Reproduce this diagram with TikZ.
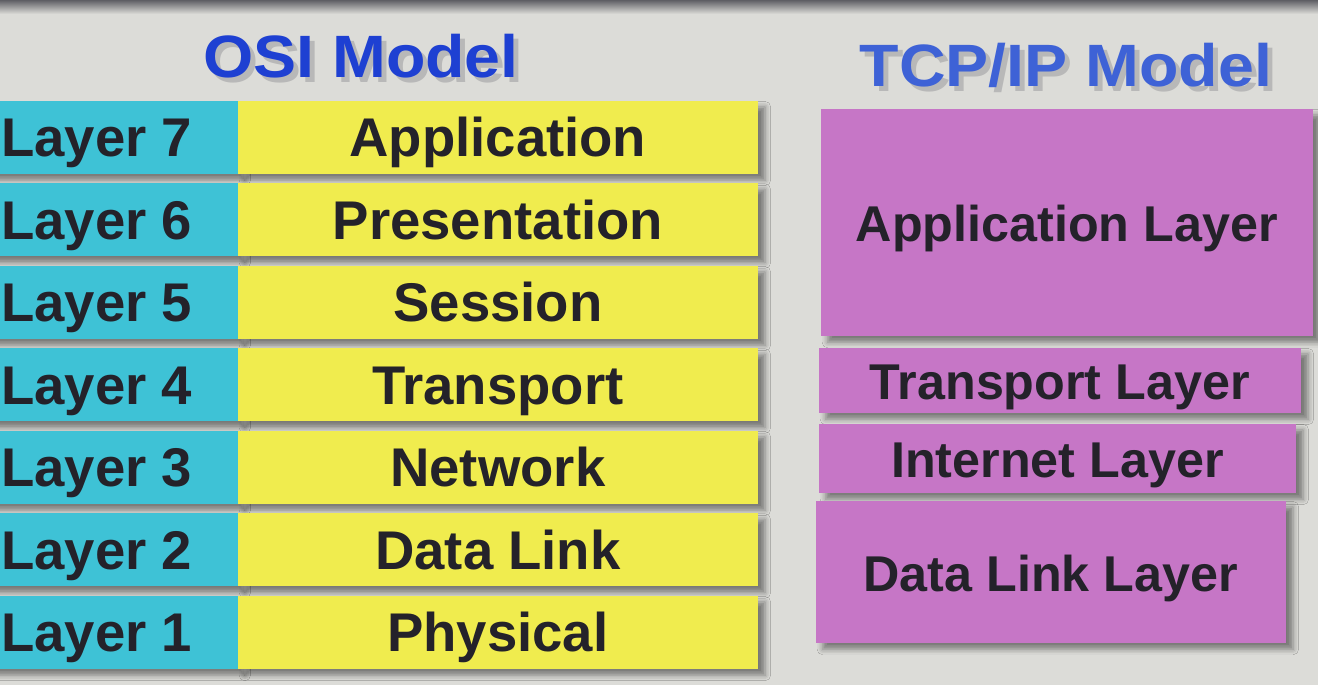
\documentclass[tikz,border=0pt]{standalone}
\usepackage{fontspec}
\setmainfont{Liberation Sans}
\usepackage{tikz}
\usetikzlibrary{positioning,shadows.blur}
\definecolor{Backdrop}{HTML}{DCDCD8}
\definecolor{Bezel}{HTML}{5E5E64}
\definecolor{LayerCyan}{HTML}{3EC2D6}
\definecolor{OsiYellow}{HTML}{F0EC4E}
\definecolor{TcpPink}{HTML}{C676C6}
\definecolor{OsiBlue}{HTML}{1E40D2}
\definecolor{TcpBlue}{HTML}{3E62D6}
\definecolor{Ink}{HTML}{24222A}
\tikzset{
    every node/.style={font=\fontsize{15.5}{18}\selectfont\bfseries, text=Ink},
    boxshade/.style={
        blur shadow={shadow xshift=2pt, shadow yshift=-1.8pt,
            shadow blur radius=1.6pt, shadow opacity=45}
    },
    boxtext/.style={
        anchor=north west, inner sep=0pt,
        text height=11pt, text depth=0pt, boxshade
    },
    layerid/.style={
        boxtext, fill=LayerCyan,
        minimum width=2.82cm, minimum height=0.73cm
    },
    osiblock/.style={
        boxtext, fill=OsiYellow,
        minimum width=5.2cm, minimum height=0.73cm
    },
    tcpblock/.style={
        boxtext, fill=TcpPink, minimum width=#1,
        font=\fontsize{14.3}{17}\selectfont\bfseries
    },
    modeltitle/.style={
        font=\fontsize{17}{22}\selectfont\bfseries, text=#1,
        xscale=1.08, transform shape
    },
}

\begin{document}
\begin{tikzpicture}[x=0.01cm, y=-0.01cm]
    \clip (0,0) rectangle (1318,685);
    \useasboundingbox (0,0) rectangle (1318,685);

    % Screen backdrop
    \fill[Backdrop] (0,0) rectangle (1318,685);
    \shade[top color=Bezel, bottom color=Backdrop] (0,0) rectangle (1318,14);

    % Titles
    \node[modeltitle=black!28] (osishade) at (366,61) {OSI Model};
    \node[modeltitle=OsiBlue] (osititle) at (361,56) {OSI Model};
    \node[modeltitle=black!28] (tcpshade) at (1071,70) {TCP/IP Model};
    \node[modeltitle=TcpBlue] (tcptitle) at (1066,65) {TCP/IP Model};

    % OSI layers
    \foreach \n/\name [count=\i from 0] in {7/Application,6/Presentation,5/Session,4/Transport,3/Network,2/Data Link,1/Physical} {
        \node[layerid] (layer\n) at (-45,{100+82.5*\i}) {Layer \n};
        \node[osiblock] (osi\n) at (237,{100+82.5*\i}) {\name};
    }

    % TCP/IP layers
    \node[tcpblock=4.92cm, minimum height=2.27cm] (tcpapp) at (820,108) {Application Layer};
    \node[tcpblock=4.82cm, minimum height=0.65cm] (tcptrans) at (818,347) {Transport Layer};
    \node[tcpblock=4.77cm, minimum height=0.69cm] (tcpnet) at (818,423) {Internet Layer};
    \node[tcpblock=4.70cm, minimum height=1.42cm] (tcplink) at (815,500) {Data Link Layer};
\end{tikzpicture}
\end{document}
